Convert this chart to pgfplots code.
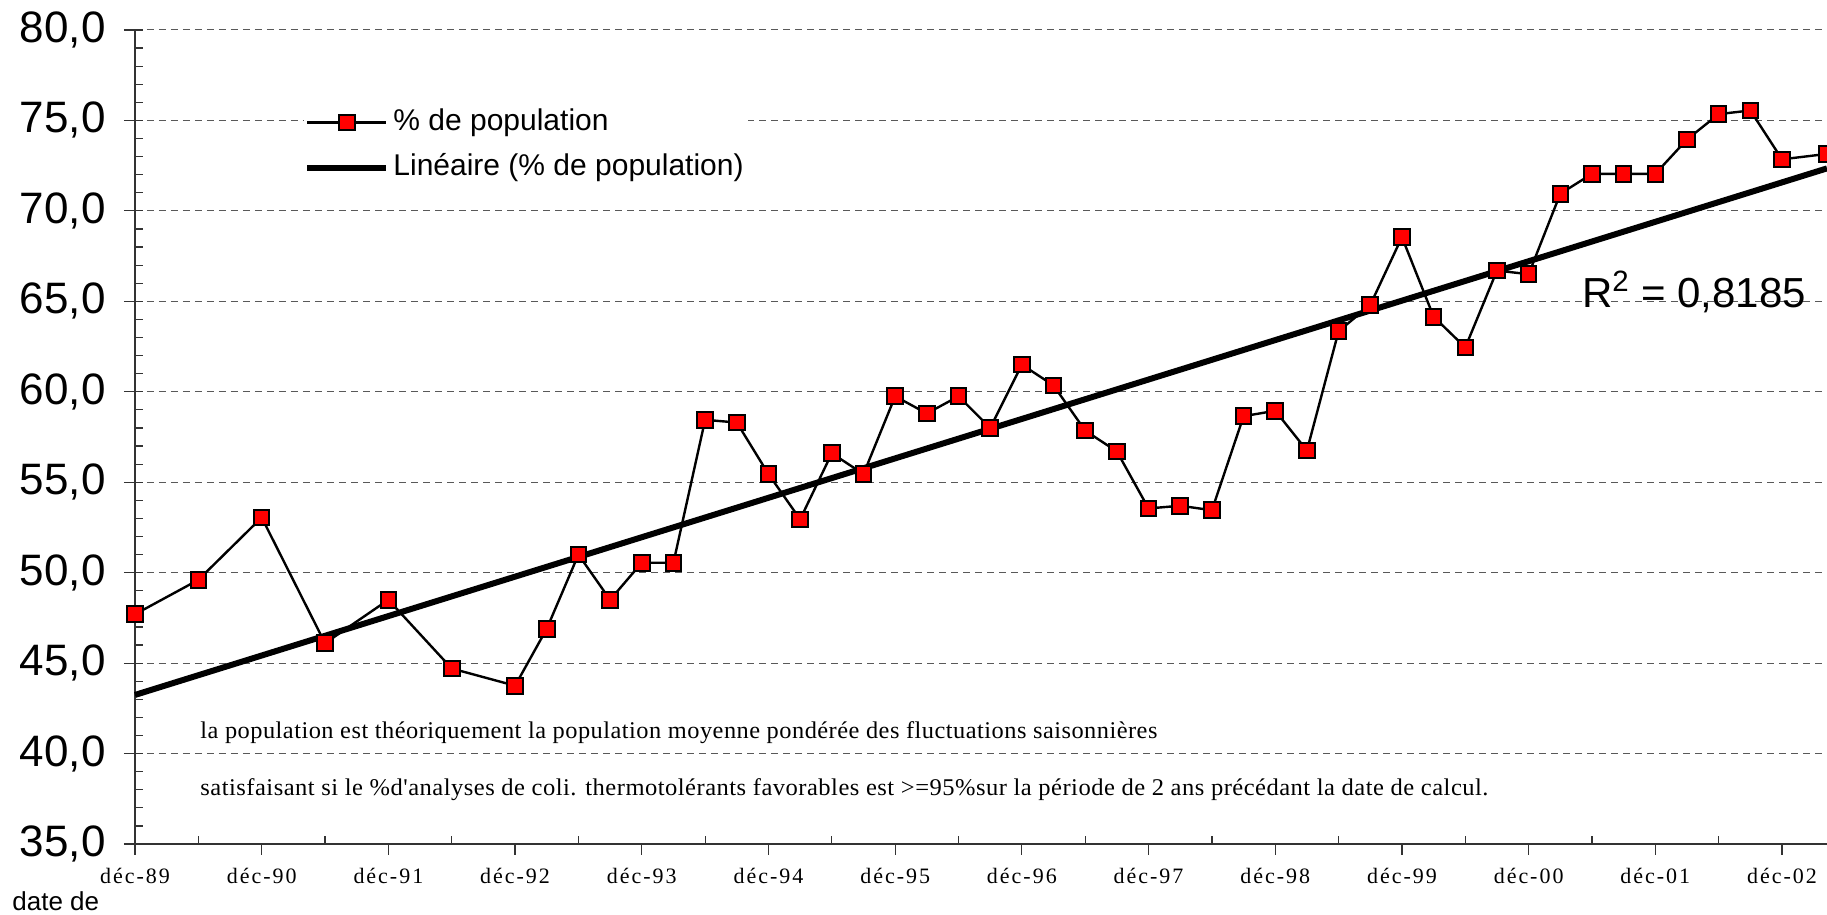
\documentclass[border=0pt]{standalone}
\usepackage{fontspec}
\setmainfont{Liberation Sans}
\newfontfamily\xlabfont[LetterSpace=9]{Liberation Serif}
\newfontfamily\notefont[LetterSpace=2]{Liberation Serif}
\usepackage{graphicx}
\usepackage{pgfplots}
\pgfplotsset{compat=1.18}
\begin{document}
\begin{tikzpicture}
\begin{axis}[
  at={(0,0)}, anchor=south west,
  scale only axis, width=846pt, height=407pt,
  xmin=0, xmax=13.355, ymin=35, ymax=80,
  axis x line*=bottom, axis y line*=left,
  axis line style={black!80, line width=0.6pt},
  xtick={0,1,2,3,4,5,6,7,8,9,10,11,12,13},
  xticklabels={déc-89,déc-90,déc-91,déc-92,déc-93,déc-94,déc-95,déc-96,déc-97,déc-98,déc-99,déc-00,déc-01,déc-02},
  minor xtick={0.5,1.5,2.5,3.5,4.5,5.5,6.5,7.5,8.5,9.5,10.5,11.5,12.5},
  ytick={35,40,...,80},
  minor ytick={35,36,...,80},
  tick align=outside,
  major tick length=5.5pt,
  minor tick length=4pt,
  minor x tick style={yshift=4pt},
  minor y tick style={xshift=4pt},
  tick style={black!80, line width=0.6pt},
  ymajorgrids,
  major grid style={dash pattern=on 3.5pt off 2.5pt, black!65, line width=0.5pt},
  yticklabel style={font=\fontsize{22}{25}\selectfont, anchor=east, inner sep=0pt, xshift=-9pt,
    /pgf/number format/.cd, fixed, fixed zerofill, precision=1, use comma, assume math mode=true},
  xticklabel style={font=\xlabfont\fontsize{11}{13}\selectfont, anchor=north, inner sep=0pt, yshift=-6.5pt},
  legend style={at={(0.0999,0.9094)}, anchor=north west, draw=none, fill=white,
    inner xsep=0pt, inner ysep=2pt, font=\fontsize{15}{18}\selectfont, row sep=8pt,
    nodes={inner xsep=2pt, inner ysep=0pt, text height=11pt, text depth=3.5pt}},
  legend cell align=left,
  legend image code/.code={\draw[mark repeat=2,mark phase=2,#1] plot coordinates {(0pt,0pt) (19.75pt,0pt) (39.5pt,0pt)};},
  clip=false,
]
\addplot[black, line width=1.2pt, mark=square*, mark size=3.9pt,
  mark options={fill=red, draw=black, line width=1pt, solid}] coordinates {
(0,47.7) (0.5,49.6) (1,53.05) (1.5,46.1) (2,48.5) (2.5,44.7) (3,43.75)
(3.25,46.9) (3.5,51.0) (3.75,48.5) (4,50.55) (4.25,50.55) (4.5,58.45) (4.75,58.3)
(5,55.45) (5.25,52.95) (5.5,56.6) (5.75,55.45) (6,59.75) (6.25,58.8) (6.5,59.75)
(6.75,58.0) (7,61.5) (7.25,60.35) (7.5,57.85) (7.75,56.7) (8,53.55) (8.25,53.7)
(8.5,53.45) (8.75,58.65) (9,58.95) (9.25,56.75) (9.5,63.35) (9.75,64.8) (10,68.55)
(10.25,64.15) (10.5,62.45) (10.75,66.7) (11,66.5) (11.25,70.95) (11.5,72.05)
(11.75,72.05) (12,72.05) (12.25,73.95) (12.5,75.35) (12.75,75.55) (13,72.85)
(13.355,73.15)
};
\addlegendentry{\% de population}
\addplot[black, line width=3pt] coordinates {(0,43.24) (13.355,72.35)};
\addlegendentry{Linéaire (\% de population)}

\node[anchor=west, inner sep=0pt] at (rel axis cs:0.0384,0.1365)
  {\resizebox{478.5pt}{\height}{\notefont\fontsize{12}{14}\selectfont la population est théoriquement la population moyenne pondérée des fluctuations saisonnières}};
\node[anchor=west, inner sep=0pt] at (rel axis cs:0.0384,0.0664)
  {\resizebox{644pt}{\height}{\notefont\fontsize{12}{14}\selectfont satisfaisant si le \%d'analyses de coli. thermotolérants favorables est >=95\%sur la période de 2 ans précédant la date de calcul.}};
\node[anchor=base west, inner sep=0pt, font=\fontsize{21}{24}\selectfont] at (rel axis cs:0.855,0.6597)
  {R\textsuperscript{2} = 0,8185};
\node[anchor=base west, inner sep=0pt, font=\fontsize{13}{15}\selectfont] at (rel axis cs:-0.0727,-0.082)
  {date de};
\end{axis}
\pgfresetboundingbox
\path[use as bounding box] (-67.5pt,-35.5pt) rectangle (846pt,422pt);
\end{tikzpicture}
\end{document}
